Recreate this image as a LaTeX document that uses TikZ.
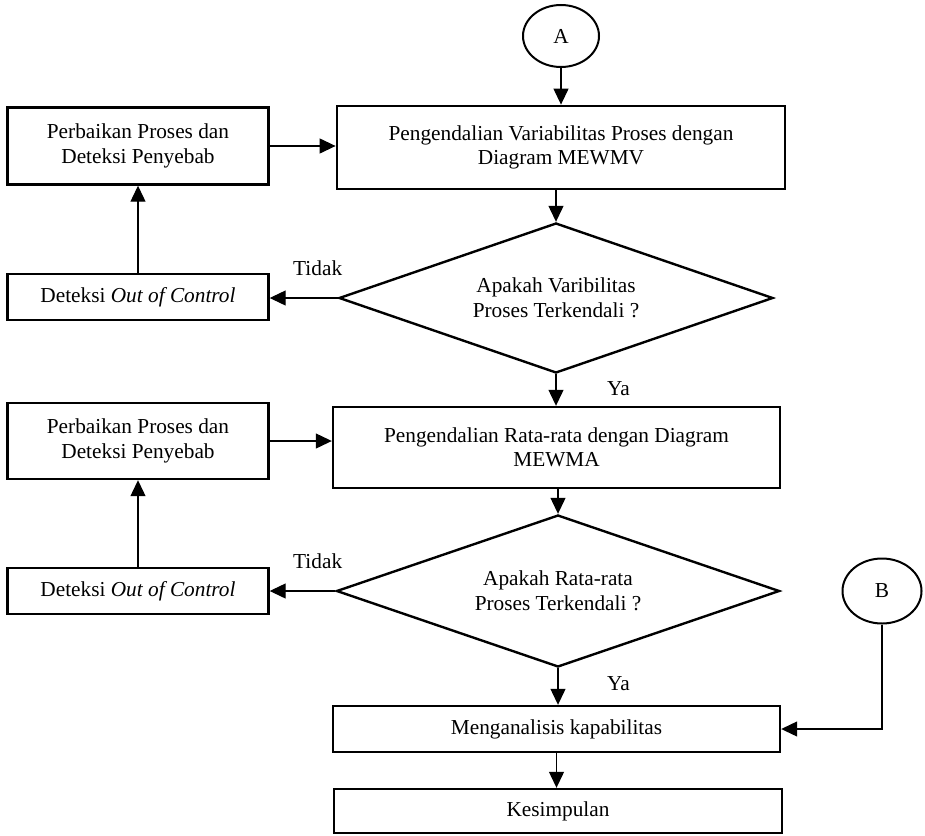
\documentclass[tikz,border=0pt]{standalone}
\usepackage{fontspec}
\setmainfont{Liberation Serif}
\usetikzlibrary{shapes.geometric,arrows.meta,calc}
\newcommand{\msize}{\fontsize{21.3}{24.5}\selectfont}
\tikzset{
  procbox/.style={draw, line width=2.4pt, inner sep=0pt, align=center, font=\msize},
  decbox/.style={draw, diamond, aspect=2.9, line width=2.4pt, inner sep=0pt, align=center, font=\msize},
  connector/.style={draw, ellipse, line width=2pt, inner sep=0pt, font=\msize},
  flow/.style={line width=1.2pt, -{Triangle[length=16pt,width=15pt]}},
  lbl/.style={font=\msize, inner sep=0pt}
}
\begin{document}
\begin{tikzpicture}[x=1pt,y=-1pt]
\useasboundingbox (0,0) rectangle (925,835);
% connectors A and B
\node[connector, minimum width=76pt, minimum height=62pt] (A) at (561,36) {A};
\node[connector, minimum width=79pt, minimum height=65pt] (B) at (882,591) {B};
% main column
\node[procbox, line width=2.8pt, minimum width=448pt, minimum height=83pt] (p1) at (561,147.5)
  {Pengendalian Variabilitas Proses dengan\\Diagram MEWMV};
\node[decbox, minimum width=434pt, minimum height=150pt] (d1) at (556,298)
  {Apakah Varibilitas\\Proses Terkendali ?};
\node[procbox, minimum width=447pt, minimum height=81pt] (p2) at (556.5,447.5)
  {Pengendalian Rata-rata dengan Diagram\\MEWMA};
\node[decbox, minimum width=443pt, minimum height=152pt] (d2) at (558,591)
  {Apakah Rata-rata\\Proses Terkendali ?};
\node[procbox, minimum width=447pt, minimum height=46pt] (m) at (556.5,729)
  {Menganalisis kapabilitas};
\node[procbox, minimum width=448pt, minimum height=44pt] (k) at (558,811)
  {Kesimpulan};
% left column
\node[procbox, minimum width=261pt, minimum height=77pt] (r1) at (138,146)
  {Perbaikan Proses dan\\Deteksi Penyebab};
\node[procbox, minimum width=261pt, minimum height=46pt] (o1) at (138,297)
  {Deteksi \textit{Out of Control}};
\node[procbox, minimum width=261pt, minimum height=76pt] (r2) at (138,441)
  {Perbaikan Proses dan\\Deteksi Penyebab};
\node[procbox, minimum width=261pt, minimum height=46pt] (o2) at (138,591)
  {Deteksi \textit{Out of Control}};
% labels
\node[lbl, anchor=base west] (t1) at (293,275) {Tidak};
\node[lbl, anchor=base west] (t2) at (293,568) {Tidak};
\node[lbl, anchor=base west] (y1) at (607,395) {Ya};
\node[lbl, anchor=base west] (y2) at (607,690) {Ya};
% flows
\draw[flow] (A.south) -- (A.south |- p1.north);
\draw[flow] (d1.north |- p1.south) -- (d1.north);
\draw[flow] (d1.south) -- (d1.south |- p2.north);
\draw[flow] (d2.north |- p2.south) -- (d2.north);
\draw[flow] (d2.south) -- (d2.south |- m.north);
\draw[flow] (m.south) -- (m.south |- k.north);
\draw[flow] (d1.west) -- (d1.west -| o1.east);
\draw[flow] (o1.north) -- (r1.south);
\draw[flow] (r1.east) -- (r1.east -| p1.west);
\draw[flow] (d2.west) -- (d2.west -| o2.east);
\draw[flow] (o2.north) -- (r2.south);
\draw[flow] (r2.east) -- (r2.east -| p2.west);
\draw[flow] (B.south) |- (m.east);
\end{tikzpicture}
\end{document}
